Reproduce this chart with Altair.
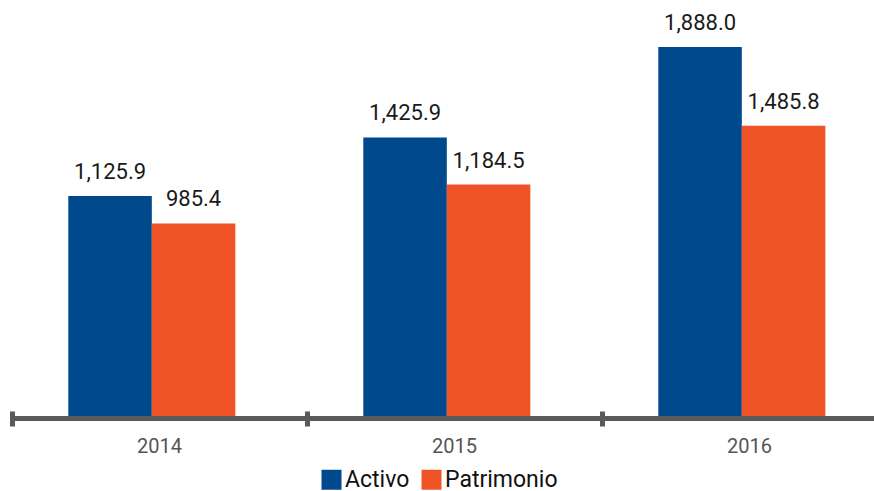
import altair as alt
import pandas as pd

years = ["2014", "2015", "2016"]
series = ["Activo", "Patrimonio"]
activo = [1125.9, 1425.9, 1888.0]
patrimonio = [985.4, 1184.5, 1485.8]
colors = ["#00498D", "#F05426"]

rows = []
for i, y in enumerate(years):
    rows.append({"year": y, "serie": "Activo", "value": activo[i]})
    rows.append({"year": y, "serie": "Patrimonio", "value": patrimonio[i]})
df = pd.DataFrame(rows)

FONT = "Roboto"
GRAY = "#5a5a5a"

x_scale = alt.Scale(domain=years, range=[0, 885], paddingInner=0, paddingOuter=0)

main_axis = alt.Axis(orient="bottom", domainColor=GRAY, domainWidth=5, ticks=False,
                     offset=2, labelAngle=0, labelFontSize=20, labelColor="#555555",
                     labelFont=FONT, labelPadding=18, grid=False)
tick_axis = alt.Axis(orient="bottom", domain=False, labels=False, tickColor=GRAY,
                     tickWidth=5, tickSize=15, tickBand="extent", offset=-5, grid=False)

xo_enc = alt.XOffset("serie:N", sort=series,
                     scale=alt.Scale(domain=series, paddingInner=0, paddingOuter=0.766, align=0.44))
y_enc = alt.Y("value:Q", scale=alt.Scale(domain=[0, 2129], nice=False, zero=True), axis=None)

bars = alt.Chart(df).mark_bar().encode(
    x=alt.X("year:N", title=None, sort=years, scale=x_scale, axis=main_axis),
    xOffset=xo_enc, y=y_enc,
    color=alt.Color("serie:N", sort=series,
                    scale=alt.Scale(domain=series, range=colors),
                    legend=alt.Legend(title=None, orient="none", direction="horizontal",
                                      legendX=308, legendY=468, symbolType="square",
                                      symbolSize=400, symbolStrokeWidth=0, symbolOpacity=1,
                                      labelFontSize=23, labelFont=FONT, labelColor="#111111",
                                      labelOffset=2, columnPadding=10, padding=0)),
)

labels = alt.Chart(df).mark_text(fontSize=22, font=FONT, color="#1a1a1a", dy=-17,
                                 baseline="alphabetic").encode(
    x=alt.X("year:N", title=None, sort=years, scale=x_scale, axis=tick_axis),
    xOffset=xo_enc, y=y_enc,
    text=alt.Text("value:Q", format=",.1f"),
)

chart = alt.layer(bars, labels).resolve_axis(x="independent").properties(
    width=862, height=416,
    background="white",
    autosize=alt.AutoSizeParams(type="none"),
    padding={"left": 12, "top": 0, "right": 0, "bottom": 75},
).configure_view(strokeWidth=0, stroke="transparent")

chart.save("out.html", embed_options={"renderer": "svg", "actions": False})
